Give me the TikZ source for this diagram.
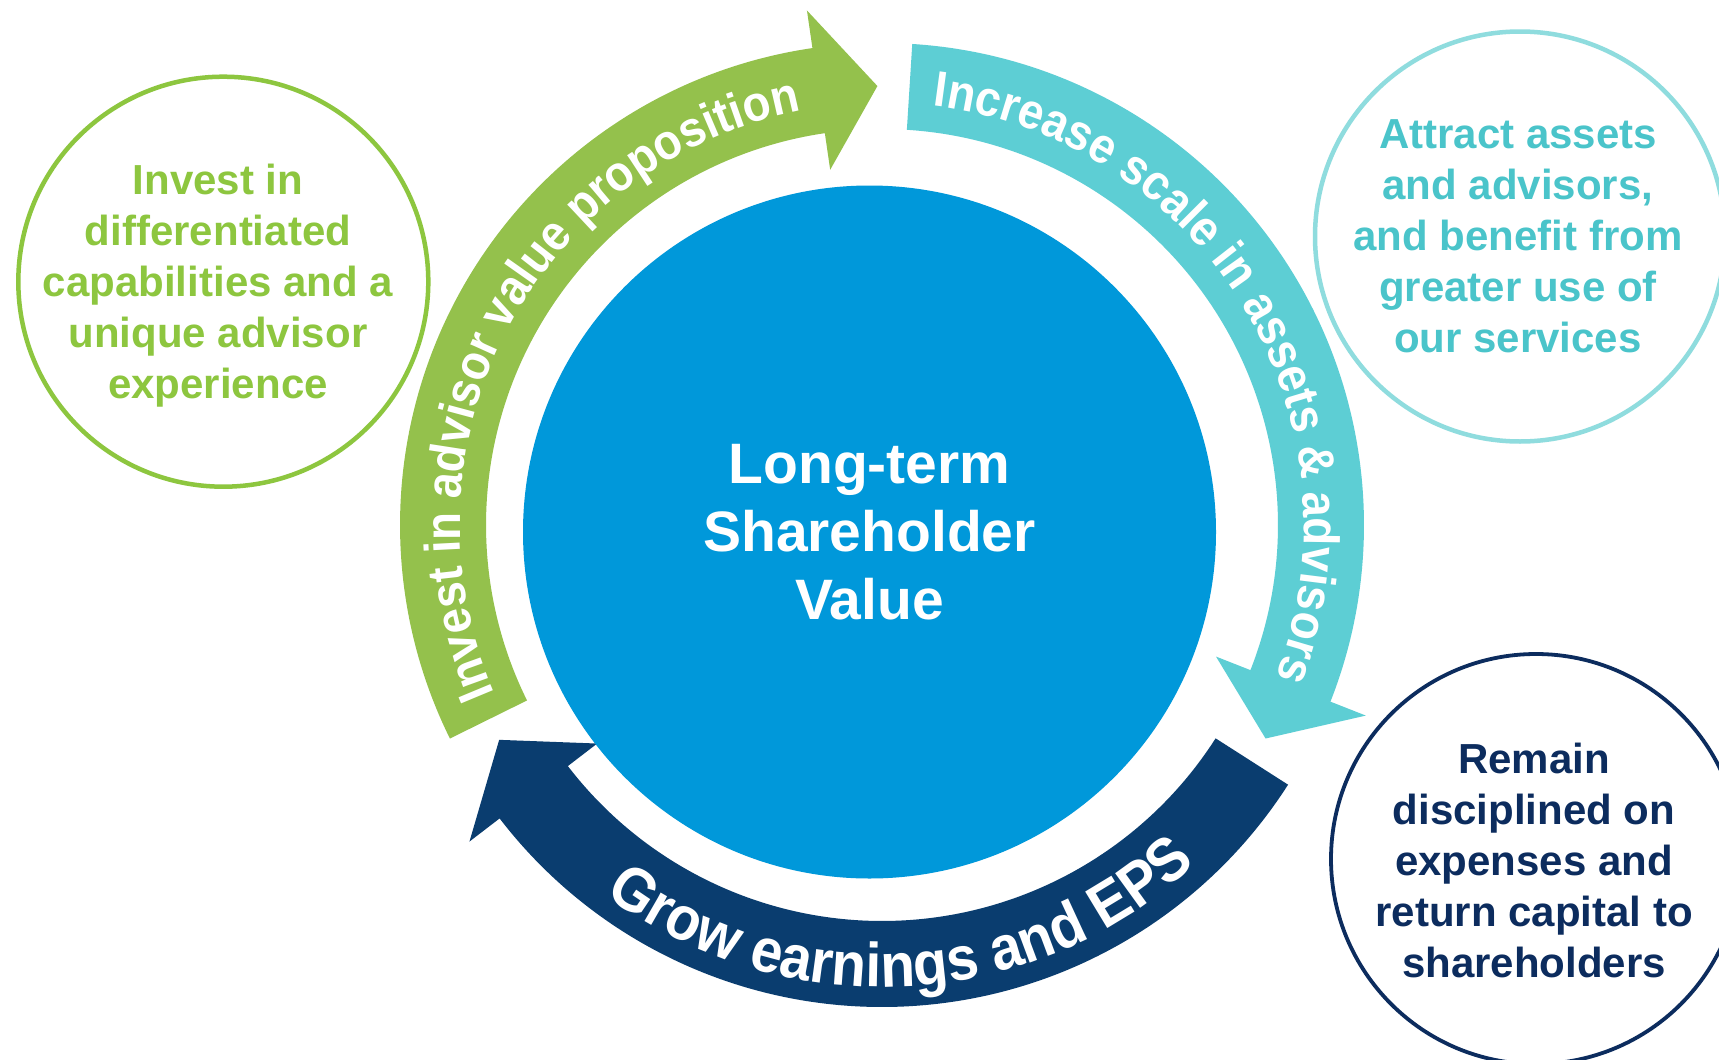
\documentclass[tikz,border=0pt]{standalone}
\usepackage{fontspec}
\setmainfont{Liberation Sans}
\newfontfamily\RingFam{Liberation Sans}[FakeStretch=0.915]
\usetikzlibrary{decorations.text}
\definecolor{ArrGreen}{HTML}{94C14C}
\definecolor{CirGreen}{HTML}{8DC63F}
\definecolor{ArrTeal}{HTML}{5DCED4}
\definecolor{CirTeal}{HTML}{8FDCDE}
\definecolor{TxtTeal}{HTML}{4AC4CA}
\definecolor{ArrNavy}{HTML}{0A3D6F}
\definecolor{CirNavy}{HTML}{0C2C5E}
\definecolor{CoreBlue}{HTML}{0098DA}
\newcommand\RingFontA{\RingFam\bfseries\fontsize{50}{60}\selectfont}
\newcommand\RingFontB{\RingFam\bfseries\fontsize{62}{72}\selectfont}
% #1 colour, #2 tail angle, #3 shaft end angle, #4 tip angle
\newcommand\RingArrow[4]{%
  \fill[#1] ([shift={(C)}]#2:396) arc[start angle=#2, end angle=#3, radius=396]
    -- ([shift={(C)}]#3:359) -- ([shift={(C)}]#4:439) -- ([shift={(C)}]#3:520)
    -- ([shift={(C)}]#3:482) arc[start angle=#3, end angle=#2, radius=482] -- cycle;}
\tikzset{
  sidecircle/.style={circle, draw=#1, line width=4.5pt, fill=white, minimum size=410pt, inner sep=0pt},
  sidetext/.style={text=#1, font=\fontsize{42}{51}\selectfont\bfseries, align=center, inner sep=0pt},
  corecircle/.style={circle, fill=CoreBlue, minimum size=693pt, inner sep=0pt, text=white,
     font=\fontsize{57}{68}\selectfont\bfseries, align=center},
}
\begin{document}
\begin{tikzpicture}[x=1pt,y=1pt]
\useasboundingbox (0,0) rectangle (1719,-1060);
\clip (0,0) rectangle (1719,-1060);
\fill[white] (0,0) rectangle (1719,-1060);
\coordinate (C) at (882,-525);

% ring arrows
\RingArrow{ArrGreen}{206.3}{98.3}{90.6}
\RingArrow{ArrTeal}{86.4}{-21.5}{-29.1}
\RingArrow{ArrNavy}{-32.6}{-142.5}{-150.7}

% ring texts
\path[decorate, decoration={text along path, text align=center, text color=white,
   text={|\RingFontA|Invest in advisor value proposition}}]
   ([shift={(C)}]222.2:422) arc[start angle=222.2, end angle=82.2, radius=422];
\path[decorate, decoration={text along path, text align=center, text color=white,
   text={|\RingFontA|Increase scale in assets {\&} advisors}}]
   ([shift={(C)}]101:422) arc[start angle=101, end angle=-39, radius=422];
\path[decorate, decoration={text along path, text align=center, text color=white,
   text={|\RingFontB|Grow earnings and EPS}}]
   ([shift={(C)}]-147:462) arc[start angle=-147, end angle=-27, radius=462];

% core
\node[corecircle] (core) at (869.5,-532) {Long-term\\Shareholder\\Value};

% side circles
\node[sidecircle=CirGreen] (gcirc) at (223.3,-281.7) {};
\node[sidetext=CirGreen] (gtext) at (218,-286) {Invest in\\differentiated\\capabilities and a\\unique advisor\\experience};
\node[sidecircle=CirTeal] (tcirc) at (1520,-236.5) {};
\node[sidetext=TxtTeal] (ttext) at (1518,-236.7) {Attract assets\\and advisors,\\and benefit from\\greater use of\\our services};
\node[sidecircle=CirNavy, line width=3.8pt] (ncirc) at (1536,-859) {};
\node[sidetext=CirNavy] (ntext) at (1534,-860.8) {Remain\\disciplined on\\expenses and\\return capital to\\shareholders};
\end{tikzpicture}
\end{document}
